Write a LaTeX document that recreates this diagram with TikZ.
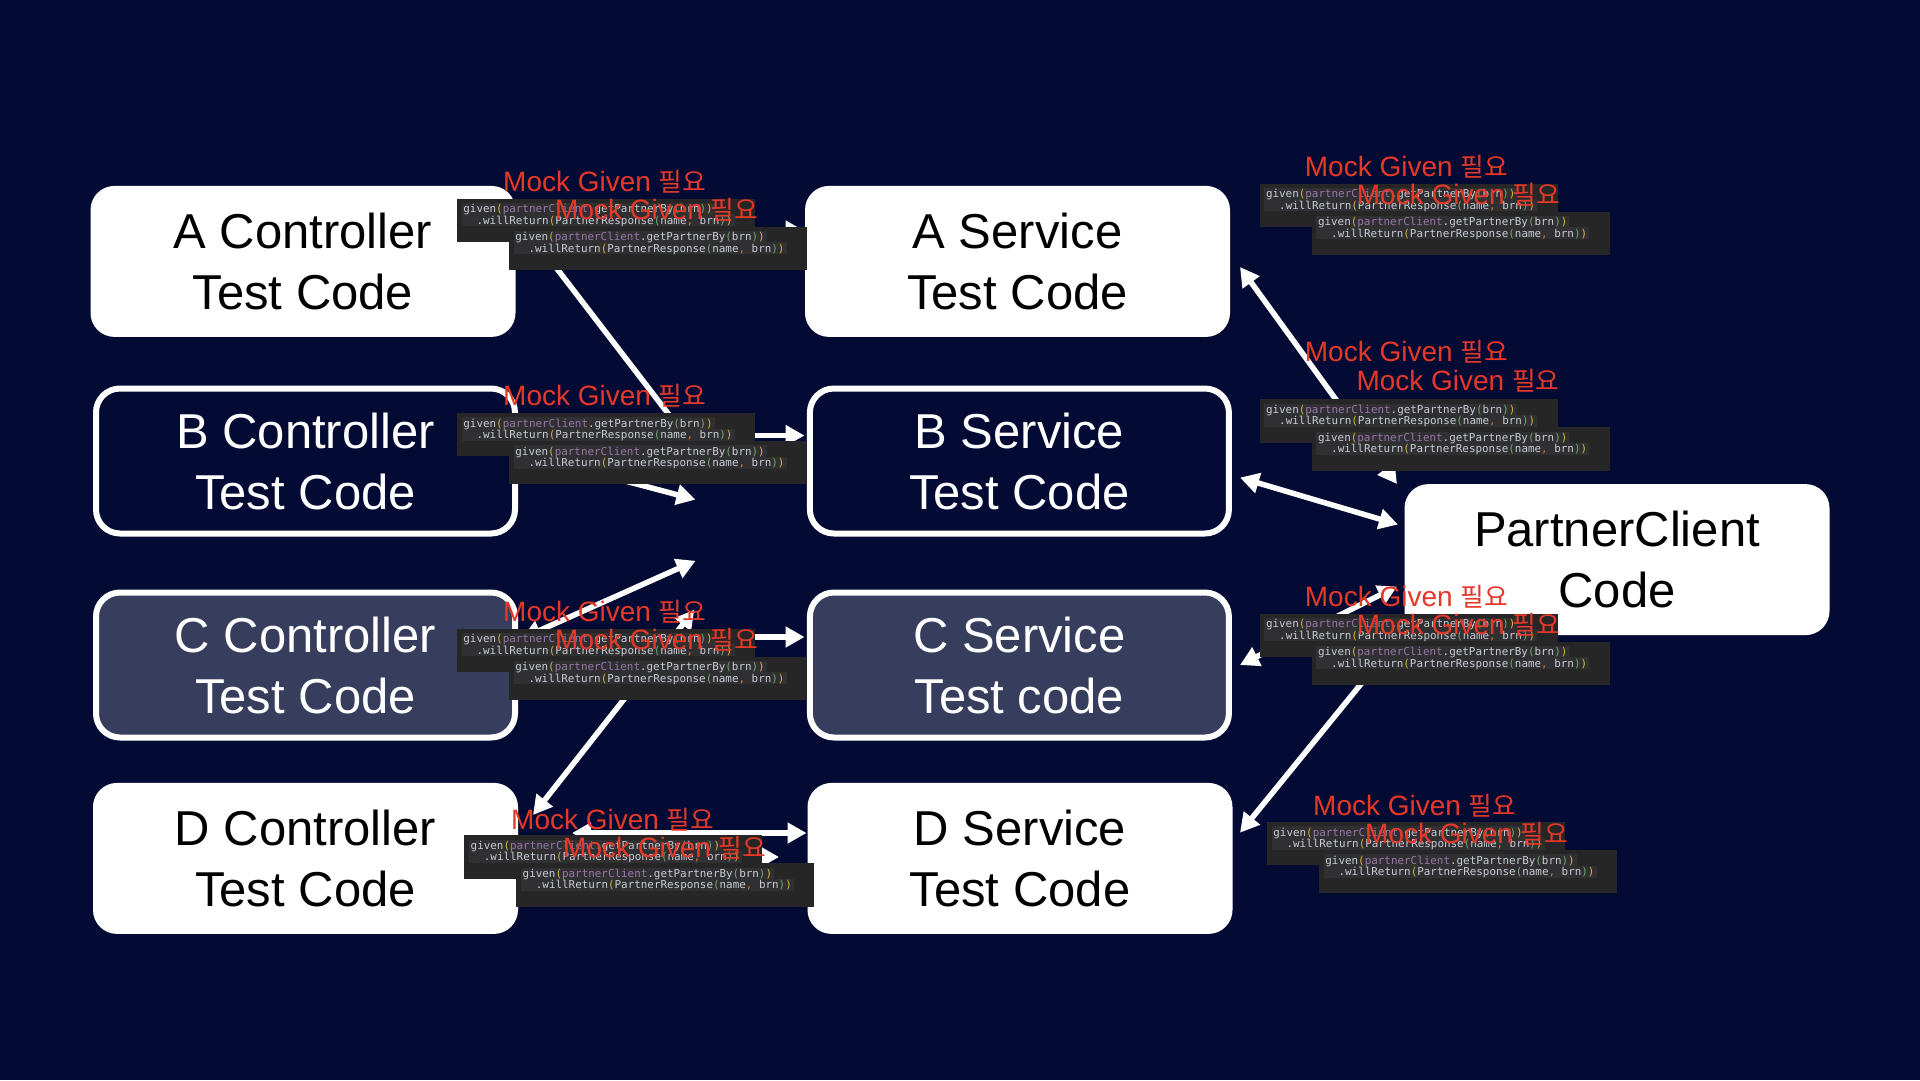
\documentclass[tikz,border=0pt]{standalone}
\usepackage{fontspec}
\setmainfont{Liberation Sans}
\newfontfamily\kr[Scale=0.92]{Noto Sans CJK KR}
\newfontfamily\codefont{DejaVu Sans Mono}
\usetikzlibrary{arrows.meta}
\definecolor{bgnavy}{RGB}{3,11,52}
\definecolor{slate}{RGB}{55,61,93}
\definecolor{mockred}{RGB}{230,56,40}
\definecolor{codebox}{RGB}{38,38,38}
\definecolor{codeband}{RGB}{48,48,50}
\definecolor{cgray}{RGB}{200,204,212}
\definecolor{cpur}{RGB}{152,118,170}
\definecolor{cyel}{RGB}{215,180,60}
\definecolor{cgrn}{RGB}{106,171,115}
\definecolor{corg}{RGB}{204,120,50}
\newcommand{\cone}{given\textcolor{cyel}{(}\textcolor{cpur}{partnerClient}.getPartnerBy\textcolor{cgrn}{(}brn\textcolor{cgrn}{)}\textcolor{cyel}{)}}
\newcommand{\ctwo}{.willReturn\textcolor{cyel}{(}PartnerResponse\textcolor{cgrn}{(}name\textcolor{corg}{,} brn\textcolor{cgrn}{)}\textcolor{cyel}{)}}
\newcommand{\codeblk}[3]{%
  \node[codebg, anchor=north west] (#1) at (#2,#3) {};
  \fill[codeband] (#2+5,#3+4.5) rectangle (#2+258,#3+16);
  \fill[codeband] (#2+5,#3+16) rectangle (#2+278,#3+28);
  \node[codetxt, anchor=base west] (#1-l1) at (#2+6.5,#3+14.5) {\cone};
  \node[codetxt, anchor=base west] (#1-l2) at (#2+19.7,#3+25.8) {\ctwo};
}
\newcommand{\mocklbl}[3]{%
  \node[mlabel, anchor=base west] (#1) at (#2-2,#3) {Mock Given {\kr 필요}};
}
\begin{document}
\begin{tikzpicture}[x=1pt,y=-1pt,
  box/.style={rounded corners=24pt, minimum width=425pt, minimum height=151pt, inner sep=0pt, align=center, font=\fontsize{49}{61}\selectfont},
  wbox/.style={box, fill=white, text=black},
  dbox/.style={box, fill=bgnavy, draw=white, line width=6pt, text=white, minimum width=419pt, minimum height=145pt},
  sbox/.style={dbox, fill=slate},
  arr/.style={draw=white, line width=5.5pt, -{Triangle[length=19pt,width=20pt]}},
  darr/.style={draw=white, line width=5.5pt, {Triangle[length=19pt,width=20pt]}-{Triangle[length=19pt,width=20pt]}},
  codebg/.style={fill=codebox, minimum width=298pt, minimum height=43.5pt, inner sep=0pt},
  codetxt/.style={inner sep=0pt, text=cgray, font=\codefont\fontsize{10.9}{11.3}\selectfont},
  mlabel/.style={inner sep=0pt, text=mockred, font=\fontsize{28}{32}\selectfont}
]
\fill[bgnavy] (0,0) rectangle (1920,1080);
\useasboundingbox (0,0) rectangle (1920,1080);

% connector end points
\coordinate (a1s) at (515,214);     \coordinate (a1e) at (716,476);
\coordinate (b1s) at (520,453);     \coordinate (b1e) at (695.5,499.6);
\coordinate (a2s) at (515.5,231);   \coordinate (a2e) at (804.5,231);
\coordinate (b2s) at (520,435.5);   \coordinate (b2e) at (804.5,435.5);
\coordinate (c1s) at (522,638.3);   \coordinate (c1e) at (695.5,560.8);
\coordinate (d1s) at (533,815);     \coordinate (d1e) at (694.3,609.8);
\coordinate (c2s) at (520.4,637);   \coordinate (c2e) at (804.5,637);
\coordinate (d2s) at (572,833);     \coordinate (d2e) at (806.5,833);
\coordinate (d3s) at (518,857);     \coordinate (d3e) at (779,857);
\coordinate (p1s) at (1397,484);    \coordinate (p1e) at (1240,267);
\coordinate (p2s) at (1240,477.6);  \coordinate (p2e) at (1398,524.5);
\coordinate (p3s) at (1240,665);    \coordinate (p3e) at (1397,586.5);
\coordinate (p4s) at (1400,636);    \coordinate (p4e) at (1240,832.7);

% connectors
\draw[arr] (a1s) -- (a1e);
\draw[arr] (b1s) -- (b1e);
\draw[arr] (a2s) -- (a2e);
\draw[arr] (b2s) -- (b2e);
\draw[darr] (c1s) -- (c1e);
\draw[darr] (d1s) -- (d1e);
\draw[arr] (c2s) -- (c2e);
\draw[darr] (d2s) -- (d2e);
\draw[arr] (d3s) -- (d3e);
\draw[darr] (p1s) -- (p1e);
\draw[darr] (p2s) -- (p2e);
\draw[darr] (p3s) -- (p3e);
\draw[arr] (p4s) -- (p4e);

% boxes
\node[wbox] (actl) at (303,261.4) {A Controller\\Test Code};
\node[dbox] (bctl) at (305.5,461) {B Controller\\Test Code};
\node[sbox] (cctl) at (305.5,665) {C Controller\\Test Code};
\node[wbox] (dctl) at (305.5,858.4) {D Controller\\Test Code};
\node[wbox] (asvc) at (1017.5,261.4) {A Service\\Test Code};
\node[dbox] (bsvc) at (1019.4,461) {B Service\\Test Code};
\node[sbox] (csvc) at (1019.4,665) {C Service\\Test code};
\node[wbox] (dsvc) at (1020,858.4) {D Service\\Test Code};
\node[wbox] (pc) at (1617,559.6) {PartnerClient\\Code};

% code snippets and labels
\codeblk{k1a}{456.7}{198.3}  \codeblk{k1b}{508.7}{226.3}
\mocklbl{m1a}{505}{191.7}    \mocklbl{m1b}{557}{219.7}

\codeblk{k2a}{456.7}{412.7}  \codeblk{k2b}{508.7}{440.7}
\mocklbl{m2a}{505}{405.5}

\codeblk{k3a}{456.7}{628.3}  \codeblk{k3b}{508.7}{656.3}
\mocklbl{m3a}{505}{621.8}    \mocklbl{m3b}{557}{649.8}

\codeblk{k4a}{464}{835}      \codeblk{k4b}{516}{863}
\mocklbl{m4a}{513}{829.5}    \mocklbl{m4b}{565}{857.5}

\codeblk{k5a}{1259.3}{183.3} \codeblk{k5b}{1311.3}{211.3}
\mocklbl{m5a}{1306.7}{176.8} \mocklbl{m5b}{1358.7}{204.8}

\codeblk{k6a}{1259.3}{399}   \codeblk{k6b}{1311.3}{427}
\mocklbl{m6a}{1306.7}{361.7} \mocklbl{m6b}{1358.3}{390}

\codeblk{k7a}{1259.3}{613.3} \codeblk{k7b}{1311.3}{641.3}
\mocklbl{m7a}{1306.7}{606.8} \mocklbl{m7b}{1358.7}{634.8}

\codeblk{k8a}{1266.7}{821.7} \codeblk{k8b}{1318.7}{849.7}
\mocklbl{m8a}{1315}{815.2}   \mocklbl{m8b}{1367}{843.2}
\end{tikzpicture}
\end{document}
